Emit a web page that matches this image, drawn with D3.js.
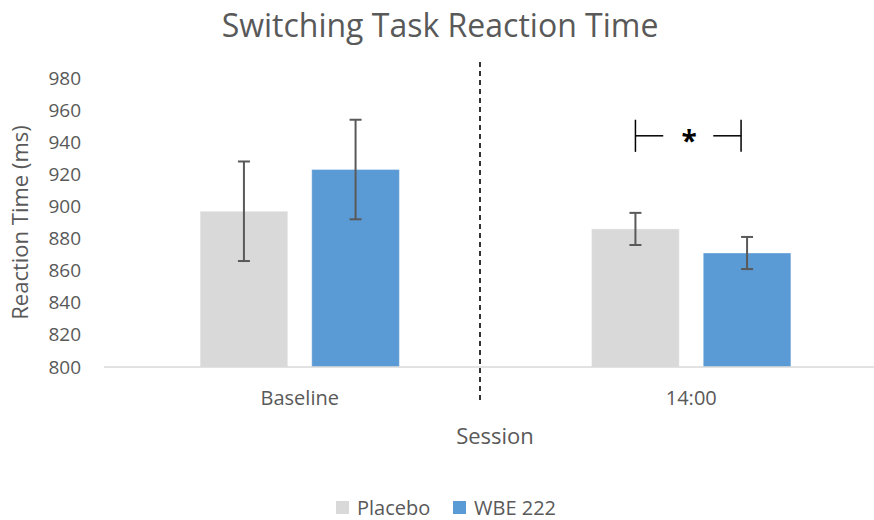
<!DOCTYPE html>
<html>
<head>
<meta charset="utf-8">
<script src="https://cdn.jsdelivr.net/npm/d3@7"></script>
<style>
  html, body { margin: 0; padding: 0; background: #fff; }
  svg { display: block; font-family: "Open Sans", "Noto Sans", sans-serif; }
</style>
</head>
<body>
<svg id="chart" width="874" height="520"></svg>
<script>
// Session groups and treatment series
const sessions = ["Baseline", "14:00"];
const seriesNames = ["Placebo", "WBE 222"];
const seriesColors = ["#D9D9D9", "#5B9BD5"];
// Mean reaction time (ms) per session, one array per series
const placeboMeans = [897, 886];
const wbeMeans = [923, 871];
// Error bar half-widths (ms)
const placeboErr = [31, 10];
const wbeErr = [31, 10];
// Y axis ticks
const yTicks = [800, 820, 840, 860, 880, 900, 920, 940, 960, 980];

const rows = [];
sessions.forEach((s, i) => {
  rows.push({ session: s, series: seriesNames[0], value: placeboMeans[i], err: placeboErr[i] });
  rows.push({ session: s, series: seriesNames[1], value: wbeMeans[i], err: wbeErr[i] });
});

const svg = d3.select("#chart");
const plot = { left: 104, right: 887, top: 78, bottom: 367 };
const textColor = "#595959";

const x0 = d3.scaleBand().domain(sessions).range([plot.left, plot.right]);
const x1 = d3.scaleBand().domain(seriesNames).range([0, x0.bandwidth()])
  .paddingInner(0.215).paddingOuter(0.861);
const y = d3.scaleLinear().domain([800, 980]).range([plot.bottom, plot.top]);
const color = d3.scaleOrdinal().domain(seriesNames).range(seriesColors);

// Title
svg.append("text")
  .attr("x", 440).attr("y", 37)
  .attr("text-anchor", "middle")
  .attr("font-size", 32)
  .attr("fill", textColor)
  .text("Switching Task Reaction Time");

// Y axis (labels only)
const yAxis = svg.append("g")
  .attr("transform", `translate(${plot.left},0)`)
  .call(d3.axisLeft(y).tickValues(yTicks).tickSize(0).tickPadding(23));
yAxis.select(".domain").remove();
yAxis.selectAll("text").attr("font-size", 19).attr("fill", textColor)
  .attr("font-family", "'Open Sans', sans-serif");

// Bars
const groups = svg.append("g").selectAll("g")
  .data(sessions).join("g")
  .attr("transform", d => `translate(${x0(d)},0)`);

groups.selectAll("rect")
  .data(s => rows.filter(r => r.session === s))
  .join("rect")
  .attr("x", d => x1(d.series))
  .attr("y", d => y(d.value))
  .attr("width", x1.bandwidth())
  .attr("height", d => y(800) - y(d.value))
  .attr("fill", d => color(d.series))
  .attr("stroke", "#fff").attr("stroke-opacity", 0.35).attr("stroke-width", 1);

// X axis line
svg.append("line")
  .attr("x1", plot.left).attr("x2", plot.right)
  .attr("y1", y(800)).attr("y2", y(800))
  .attr("stroke", "#D9D9D9").attr("stroke-width", 1.5);

// Error bars
const capHalf = 6;
const eb = groups.selectAll("g.err")
  .data(s => rows.filter(r => r.session === s))
  .join("g").attr("class", "err")
  .attr("stroke", "#595959").attr("stroke-width", 2);
eb.append("line")
  .attr("x1", d => x1(d.series) + x1.bandwidth() / 2)
  .attr("x2", d => x1(d.series) + x1.bandwidth() / 2)
  .attr("y1", d => y(d.value + d.err))
  .attr("y2", d => y(d.value - d.err));
eb.append("line")
  .attr("x1", d => x1(d.series) + x1.bandwidth() / 2 - capHalf)
  .attr("x2", d => x1(d.series) + x1.bandwidth() / 2 + capHalf)
  .attr("y1", d => y(d.value + d.err))
  .attr("y2", d => y(d.value + d.err));
eb.append("line")
  .attr("x1", d => x1(d.series) + x1.bandwidth() / 2 - capHalf)
  .attr("x2", d => x1(d.series) + x1.bandwidth() / 2 + capHalf)
  .attr("y1", d => y(d.value - d.err))
  .attr("y2", d => y(d.value - d.err));

// X tick labels
svg.append("g").selectAll("text")
  .data(sessions).join("text")
  .attr("x", d => x0(d) + x0.bandwidth() / 2)
  .attr("y", 405)
  .attr("text-anchor", "middle")
  .attr("font-size", 20)
  .attr("fill", textColor)
  .text(d => d);

// Axis titles
svg.append("text")
  .attr("x", 495).attr("y", 444)
  .attr("text-anchor", "middle")
  .attr("font-size", 22).attr("fill", textColor)
  .text("Session");
svg.append("text")
  .attr("transform", `translate(28,${(plot.top + plot.bottom) / 2}) rotate(-90)`)
  .attr("text-anchor", "middle")
  .attr("font-size", 22).attr("fill", textColor)
  .text("Reaction Time (ms)");

// Session divider
svg.append("line")
  .attr("x1", 480).attr("x2", 480)
  .attr("y1", 62).attr("y2", 401)
  .attr("stroke", "#000").attr("stroke-width", 1.6)
  .attr("stroke-dasharray", "5,4");

// Significance bracket over the 14:00 pair
const sigSession = "14:00";
const bx1 = x0(sigSession) + x1(seriesNames[0]) + x1.bandwidth() / 2;
const bx2 = x0(sigSession) + x1(seriesNames[1]) + x1.bandwidth() / 2 - 6;
const bMid = (bx1 + bx2) / 2;
const by = y(944);
const br = svg.append("g").attr("stroke", "#000").attr("stroke-width", 1.5);
br.append("line").attr("x1", bx1).attr("x2", bx1).attr("y1", y(954)).attr("y2", y(934));
br.append("line").attr("x1", bx2).attr("x2", bx2).attr("y1", y(954)).attr("y2", y(934));
br.append("line").attr("x1", bx1).attr("x2", bMid - 25).attr("y1", by).attr("y2", by);
br.append("line").attr("x1", bMid + 25).attr("x2", bx2).attr("y1", by).attr("y2", by);
svg.append("text")
  .attr("x", bMid + 1).attr("y", by + 15)
  .attr("text-anchor", "middle")
  .attr("font-size", 28).attr("font-weight", "bold")
  .attr("fill", "#000")
  .text("*");

// Legend
const legend = svg.append("g");
const legendX = [336, 453];
seriesNames.forEach((name, i) => {
  legend.append("rect")
    .attr("x", legendX[i]).attr("y", 501)
    .attr("width", 13).attr("height", 13)
    .attr("fill", color(name));
  legend.append("text")
    .attr("x", legendX[i] + 21).attr("y", 515)
    .attr("font-size", 20).attr("fill", textColor)
    .text(name);
});
</script>
</body>
</html>
